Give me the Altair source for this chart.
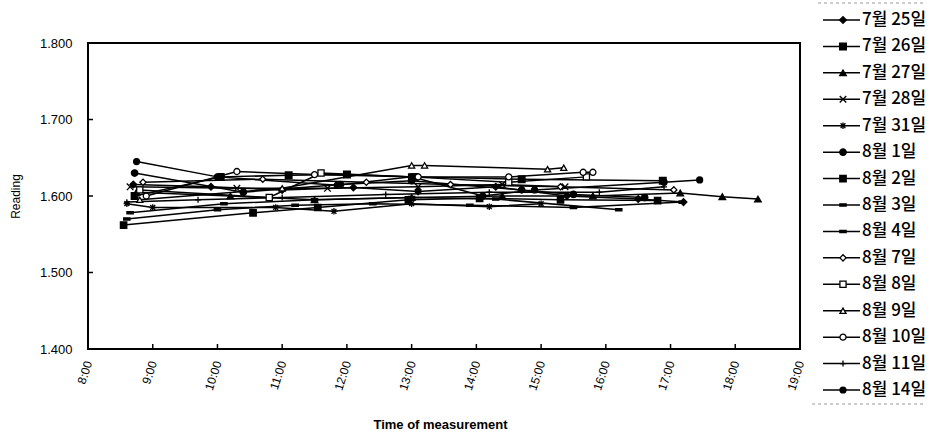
import altair as alt
import pandas as pd

# ---------------- data ----------------
series_names = ["7월 25일", "7월 26일", "7월 27일", "7월 28일", "7월 31일",
                "8월 1일", "8월 2일", "8월 3일", "8월 4일", "8월 7일",
                "8월 8일", "8월 9일", "8월 10일", "8월 11일", "8월 14일"]

t_0725 = [8.70, 9.90, 11.00, 12.10, 13.10, 14.30, 15.40, 16.50, 17.20]
v_0725 = [1.615, 1.612, 1.608, 1.611, 1.606, 1.612, 1.600, 1.596, 1.592]
t_0726 = [8.72, 10.05, 11.10, 12.00, 13.05, 14.70, 16.88]
v_0726 = [1.600, 1.625, 1.627, 1.628, 1.625, 1.622, 1.620]
t_0727 = [8.75, 10.20, 11.50, 13.00, 14.40, 15.80, 17.15, 17.80, 18.35]
v_0727 = [1.605, 1.600, 1.595, 1.598, 1.600, 1.600, 1.604, 1.599, 1.596]
t_0728 = [8.65, 10.30, 11.70, 13.10, 14.40, 15.37]
v_0728 = [1.612, 1.610, 1.610, 1.612, 1.615, 1.612]
t_0731 = [8.60, 9.00, 10.90, 11.80, 13.00, 14.20, 15.00]
v_0731 = [1.590, 1.585, 1.585, 1.580, 1.590, 1.586, 1.590]
t_0801 = [8.72, 10.40, 11.90, 13.00, 14.70, 15.50, 16.60]
v_0801 = [1.630, 1.605, 1.615, 1.620, 1.608, 1.602, 1.598]
t_0802 = [8.55, 10.55, 11.55, 12.95, 14.05, 15.30, 16.80]
v_0802 = [1.562, 1.578, 1.585, 1.595, 1.597, 1.595, 1.594]
t_0803 = [8.60, 10.00, 11.20, 12.40, 13.90, 15.50, 17.18]
v_0803 = [1.570, 1.582, 1.588, 1.590, 1.588, 1.585, 1.592]
t_0804 = [8.65, 10.10, 11.50, 13.00, 14.30, 16.20]
v_0804 = [1.578, 1.590, 1.595, 1.598, 1.596, 1.582]
t_0807 = [8.85, 10.70, 12.30, 13.60, 15.30, 17.05]
v_0807 = [1.618, 1.622, 1.618, 1.615, 1.612, 1.608]
t_0808 = [8.80, 10.80, 11.60, 13.00, 14.50, 15.70]
v_0808 = [1.608, 1.598, 1.630, 1.625, 1.618, 1.625]
t_0809 = [8.80, 11.00, 13.00, 13.20, 15.10, 15.35]
v_0809 = [1.595, 1.610, 1.640, 1.640, 1.635, 1.637]
t_0810 = [8.90, 10.30, 11.50, 13.10, 14.50, 15.65, 15.80]
v_0810 = [1.600, 1.632, 1.628, 1.625, 1.625, 1.631, 1.631]
t_0811 = [8.60, 9.70, 11.00, 12.60, 14.20, 15.90, 16.90]
v_0811 = [1.592, 1.595, 1.598, 1.602, 1.605, 1.605, 1.612]
t_0814 = [8.75, 10.00, 11.85, 13.00, 14.10, 14.90, 16.90, 17.45]
v_0814 = [1.645, 1.625, 1.614, 1.625, 1.600, 1.608, 1.618, 1.621]

all_times = [t_0725, t_0726, t_0727, t_0728, t_0731, t_0801, t_0802, t_0803,
             t_0804, t_0807, t_0808, t_0809, t_0810, t_0811, t_0814]
all_vals = [v_0725, v_0726, v_0727, v_0728, v_0731, v_0801, v_0802, v_0803,
            v_0804, v_0807, v_0808, v_0809, v_0810, v_0811, v_0814]

y_ticks = [1.4, 1.5, 1.6, 1.7, 1.8]
x_ticks = list(range(8, 20))

# ---------------- styles ----------------
X_PATH = "M-1,-1L1,1M1,-1L-1,1"
STAR = "M-1,0L1,0M0,-1L0,1M-0.75,-0.75L0.75,0.75M0.75,-0.75L-0.75,0.75"
PLUS = "M-1,0L1,0M0,-1L0,1"
DASH = "M-1,-0.35L1,-0.35L1,0.35L-1,0.35Z"
shapes = ["diamond", "square", "triangle-up", X_PATH, STAR, "circle", "square",
          DASH, DASH, "diamond", "square", "triangle-up", "circle", PLUS, "circle"]
fills = ["black", "black", "black", "white", "white", "black", "black", "black",
         "black", "white", "white", "white", "white", "white", "black"]
sizes = [45, 35, 45, 45, 55, 60, 160, 30, 45, 35, 35, 40, 45, 55, 130]

rows = []
for name, ts, vs in zip(series_names, all_times, all_vals):
    for t, v in zip(ts, vs):
        rows.append({"series": name, "hour": t, "reading": v})
df = pd.DataFrame(rows)
legend_df = pd.DataFrame({"series": series_names, "idx": list(range(len(series_names)))})
ytick_df = pd.DataFrame({"v": y_ticks[1:-1]})
xtick_df = pd.DataFrame({"h": x_ticks[1:-1]})
frame_df = pd.DataFrame({"k": ["top", "bottom"]})

shape_enc = alt.Shape("series:N", scale=alt.Scale(domain=series_names, range=shapes), legend=None)
fill_enc = alt.Fill("series:N", scale=alt.Scale(domain=series_names, range=fills), legend=None)
size_enc = alt.Size("series:N", scale=alt.Scale(domain=series_names, range=sizes), legend=None)

x_scale = alt.Scale(domain=[8, 19], nice=False, zero=False)
y_scale = alt.Scale(domain=[1.4, 1.8], nice=False, zero=False)

x_enc = alt.X("hour:Q", scale=x_scale, axis=alt.Axis(
    values=x_ticks, labelExpr="datum.value + ':00'", labelAngle=-72,
    labelFontSize=12, labelFont="Liberation Sans", labelPadding=12,
    labelColor="black", ticks=False, domain=False, grid=False,
    title="Time of measurement", titleFont="Liberation Sans", titleFontSize=13,
    titleFontWeight="bold", titleColor="black", titleX=352, titleY=75,
    titleBaseline="middle"))
y_enc = alt.Y("reading:Q", scale=y_scale, axis=alt.Axis(
    values=y_ticks, format=".3f", labelFontSize=13, labelFont="Liberation Sans",
    labelPadding=16, labelColor="black", ticks=False, domain=False, grid=False,
    title="Reading", titleFont="Liberation Sans", titleFontSize=12,
    titleFontWeight="normal", titleColor="black", titleX=-73, titleY=153,
    titleBaseline="middle"))

lines = alt.Chart(df).mark_line(color="black", strokeWidth=1.5).encode(
    x=x_enc, y=y_enc, detail="series:N", order="hour:Q")
points = alt.Chart(df).mark_point(filled=True, stroke="black", strokeWidth=1.3,
                                  opacity=1, fillOpacity=1).encode(
    x=alt.X("hour:Q", scale=x_scale), y=alt.Y("reading:Q", scale=y_scale),
    shape=shape_enc, fill=fill_enc, size=size_enc)
yticks = alt.Chart(ytick_df).mark_rule(color="black", strokeWidth=1.5).encode(
    y=alt.Y("v:Q", scale=y_scale), x=alt.value(0), x2=alt.value(5))
xticks = alt.Chart(xtick_df).mark_rule(color="black", strokeWidth=1.5).encode(
    x=alt.X("h:Q", scale=x_scale), y=alt.value(306), y2=alt.value(301))

main = alt.layer(lines, points, yticks, xticks)

leg_y = alt.Y("idx:Q", scale=alt.Scale(domain=[0, 14], range=[-23, 347]), axis=None)
leg_rules = alt.Chart(legend_df).mark_rule(color="black", strokeWidth=1.5).encode(
    y=leg_y, x=alt.value(735), x2=alt.value(772))
leg_pts = alt.Chart(legend_df).mark_point(filled=True, stroke="black", strokeWidth=1.3,
                                          opacity=1, fillOpacity=1).encode(
    y=leg_y, x=alt.value(755), shape=shape_enc, fill=fill_enc, size=size_enc)
leg_text = alt.Chart(legend_df).mark_text(align="left", baseline="middle",
                                          font="Noto Sans CJK KR", fontSize=17,
                                          fontWeight=500, color="black").encode(
    y=leg_y, x=alt.value(774), text="series:N")
leg_top = alt.Chart(frame_df).transform_filter("datum.k == 'top'").mark_rule(
    color="#999999", strokeWidth=1, strokeDash=[3, 3]).encode(
    x=alt.value(730), x2=alt.value(838), y=alt.value(-40))
leg_bot = alt.Chart(frame_df).transform_filter("datum.k == 'bottom'").mark_rule(
    color="#999999", strokeWidth=1, strokeDash=[3, 3]).encode(
    x=alt.value(724), x2=alt.value(838), y=alt.value(361))
legend = alt.layer(leg_top, leg_bot, leg_rules, leg_pts, leg_text)

chart = alt.layer(main, legend).resolve_scale(y="independent").properties(
    width=712, height=306,
    padding={"left": 88, "top": 43, "right": 144, "bottom": 87},
    autosize=alt.AutoSizeParams(type="none"),
    background="white",
).configure_view(stroke="black", strokeWidth=2)

chart.save("out.html", embed_options={"renderer": "svg", "actions": False})
